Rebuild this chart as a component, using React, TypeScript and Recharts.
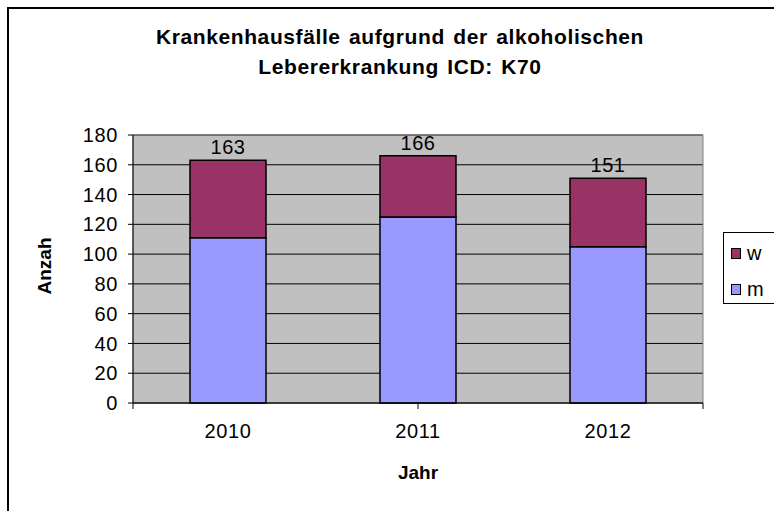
import { Bar, BarChart, CartesianGrid, LabelList, ReferenceArea, XAxis, YAxis } from 'recharts'

// Krankenhausfälle K70 – gestapelte Säulen (m / w)

const YEARS = ['2010', '2011', '2012']
const MALE = [111, 125, 105]
const FEMALE = [52, 41, 46]
const Y_TICKS = [0, 20, 40, 60, 80, 100, 120, 140, 160, 180]
const BOUNDS = [0, 1, 2, 3]

const COL_M = '#9999FF'
const COL_W = '#993366'
const FONT = '"Liberation Sans", Arial, sans-serif'

const data = YEARS.map((y, i) => ({ year: y, m: MALE[i], w: FEMALE[i], total: MALE[i] + FEMALE[i] }))

const tickStyle = { fill: '#000', fontSize: 20, fontFamily: FONT, letterSpacing: 0.6 }

function LegendBox() {
  const items = [
    { label: 'w', color: COL_W },
    { label: 'm', color: COL_M },
  ]
  return (
    <div
      style={{
        position: 'absolute',
        left: 723,
        top: 232,
        border: '1px solid #000',
        width: 70,
        height: 72,
        boxSizing: 'border-box',
        background: '#fff',
        fontFamily: FONT,
        fontSize: 20,
        paddingTop: 7,
      }}
    >
      {items.map((it) => (
        <div key={it.label} style={{ display: 'flex', alignItems: 'center', height: 26, marginBottom: 10, paddingLeft: 7 }}>
          <span style={{ width: 8, height: 9, background: it.color, border: '1px solid #000', marginRight: 6 }} />
          <span>{it.label}</span>
        </div>
      ))}
    </div>
  )
}

export default function App() {
  return (
    <div
      style={{
        position: 'absolute',
        left: 0,
        top: 0,
        width: 774,
        height: 511,
        overflow: 'hidden',
        background: '#fff',
        fontFamily: FONT,
      }}
    >
      <div style={{ position: 'absolute', left: 7, top: 7, width: 900, height: 700, border: '2px solid #000' }} />
      <div
        style={{
          position: 'absolute',
          left: 0,
          width: 800,
          top: 22,
          textAlign: 'center',
          fontWeight: 'bold',
          fontSize: 21,
          letterSpacing: 0.6,
          wordSpacing: 2,
          lineHeight: '30px',
        }}
      >
        Krankenhausfälle aufgrund der alkoholischen
        <br />
        Lebererkrankung ICD: K70
      </div>
      <div
        style={{
          position: 'absolute',
          left: 45,
          top: 266,
          transform: 'translate(-50%, -50%) rotate(-90deg)',
          fontWeight: 'bold',
          fontSize: 19,
        }}
      >
        Anzah
      </div>
      <div
        style={{
          position: 'absolute',
          left: 418,
          top: 473,
          transform: 'translate(-50%, -50%)',
          fontWeight: 'bold',
          fontSize: 19,
        }}
      >
        Jahr
      </div>
      <div style={{ position: 'absolute', left: 0, top: 0 }}>
        <BarChart
          width={774}
          height={511}
          data={data}
          margin={{ top: 135, right: 71, bottom: 77, left: 83 }}
          barCategoryGap="30%"
        >
          <CartesianGrid xAxisId="cat" vertical={false} stroke="#000" fill="#C0C0C0" fillOpacity={1} />
          <XAxis
            xAxisId="bounds"
            type="number"
            domain={[0, 3]}
            ticks={BOUNDS}
            height={1}
            tickSize={6}
            tickFormatter={() => ''}
            stroke="#000"
          />
          <XAxis
            xAxisId="cat"
            dataKey="year"
            height={30}
            tickLine={false}
            axisLine={false}
            tickSize={0}
            tickMargin={20}
            tick={tickStyle}
          />
          <YAxis
            width={50}
            domain={[0, 180]}
            ticks={Y_TICKS}
            interval={0}
            tickSize={5}
            tickMargin={10}
            stroke="#000"
            tick={tickStyle}
          />
          <ReferenceArea xAxisId="cat" y1={0} y2={180} fill="none" stroke="#808080" strokeWidth={1} />
          <Bar xAxisId="cat" dataKey="m" stackId="a" fill={COL_M} stroke="#000" strokeWidth={1.5} isAnimationActive={false} />
          <Bar xAxisId="cat" dataKey="w" stackId="a" fill={COL_W} stroke="#000" strokeWidth={1.5} isAnimationActive={false}>
            <LabelList dataKey="total" position="top" offset={6} fill="#000" fontSize={20} fontFamily={FONT} letterSpacing={0.6} />
          </Bar>
        </BarChart>
      </div>
      <LegendBox />
    </div>
  )
}
